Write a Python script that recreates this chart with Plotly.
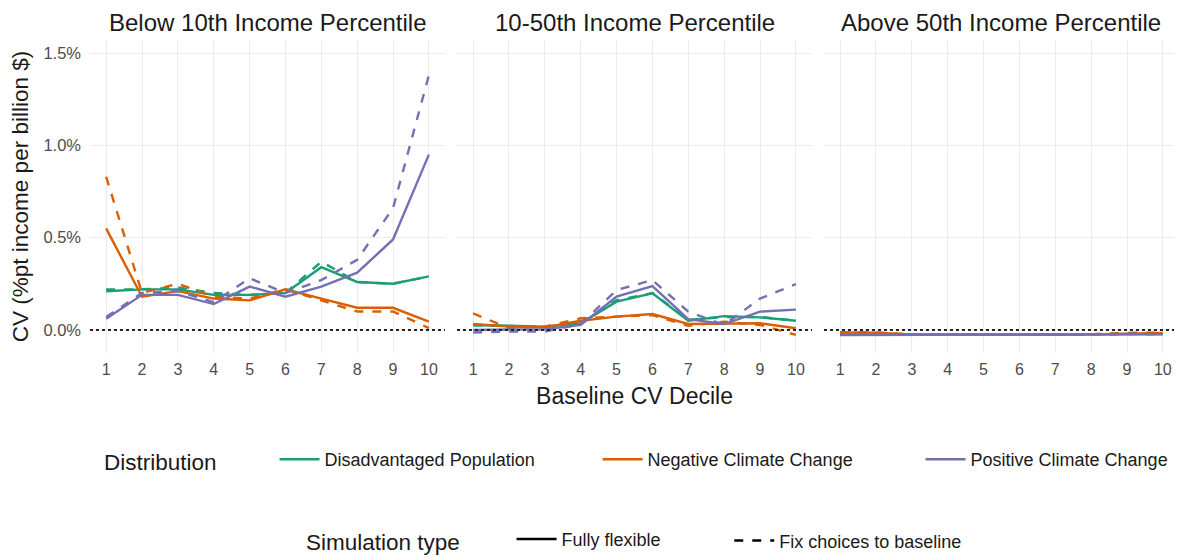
import plotly.graph_objects as go
from plotly.subplots import make_subplots

# 데이터
deciles = list(range(1, 11))
panels = ['Below 10th Income Percentile', '10-50th Income Percentile', 'Above 50th Income Percentile']
dists = ['Disadvantaged Population', 'Negative Climate Change', 'Positive Climate Change']
sim_types = ['Fully flexible', 'Fix choices to baseline']
y_ticks = [0, 0.5, 1.0, 1.5]
y_ticktext = ['0.0%', '0.5%', '1.0%', '1.5%']

# 패널 1: Below 10th
p1_dis_flex = [0.21, 0.22, 0.22, 0.19, 0.19, 0.20, 0.34, 0.26, 0.25, 0.29]
p1_dis_fix = [0.22, 0.22, 0.23, 0.20, 0.19, 0.20, 0.37, 0.26, 0.25, 0.29]
p1_neg_flex = [0.55, 0.18, 0.21, 0.17, 0.16, 0.22, 0.17, 0.12, 0.12, 0.045]
p1_neg_fix = [0.83, 0.20, 0.25, 0.18, 0.17, 0.22, 0.16, 0.10, 0.10, 0.01]
p1_pos_flex = [0.06, 0.19, 0.19, 0.14, 0.235, 0.18, 0.235, 0.31, 0.49, 0.95]
p1_pos_fix = [0.07, 0.20, 0.21, 0.15, 0.28, 0.20, 0.27, 0.38, 0.66, 1.38]

# 패널 2: 10-50th
p2_dis_flex = [0.027, 0.023, 0.018, 0.036, 0.153, 0.198, 0.05, 0.075, 0.068, 0.05]
p2_dis_fix = [0.025, 0.022, 0.017, 0.04, 0.16, 0.2, 0.055, 0.07, 0.07, 0.05]
p2_neg_flex = [0.032, 0.018, 0.014, 0.05, 0.072, 0.086, 0.032, 0.032, 0.036, 0.009]
p2_neg_fix = [0.09, 0.009, 0.018, 0.063, 0.072, 0.08, 0.022, 0.045, 0.027, -0.027]
p2_pos_flex = [0.0, 0.0, 0.004, 0.027, 0.18, 0.237, 0.058, 0.032, 0.099, 0.11]
p2_pos_fix = [-0.014, -0.009, -0.009, 0.032, 0.216, 0.27, 0.099, 0.027, 0.17, 0.248]

# 패널 3: Above 50th
p3_dis_flex = [-0.025, -0.025, -0.027, -0.027, -0.026, -0.026, -0.026, -0.025, -0.024, -0.022]
p3_dis_fix = [-0.024, -0.024, -0.026, -0.026, -0.025, -0.025, -0.025, -0.024, -0.023, -0.021]
p3_neg_flex = [-0.014, -0.015, -0.025, -0.026, -0.025, -0.026, -0.026, -0.024, -0.022, -0.016]
p3_neg_fix = [-0.012, -0.013, -0.024, -0.025, -0.024, -0.025, -0.025, -0.023, -0.016, -0.014]
p3_pos_flex = [-0.028, -0.028, -0.028, -0.027, -0.027, -0.027, -0.027, -0.024, -0.022, -0.024]
p3_pos_fix = [-0.027, -0.027, -0.027, -0.026, -0.026, -0.026, -0.026, -0.023, -0.021, -0.023]

data = [
    {'dis': (p1_dis_flex, p1_dis_fix), 'neg': (p1_neg_flex, p1_neg_fix), 'pos': (p1_pos_flex, p1_pos_fix)},
    {'dis': (p2_dis_flex, p2_dis_fix), 'neg': (p2_neg_flex, p2_neg_fix), 'pos': (p2_pos_flex, p2_pos_fix)},
    {'dis': (p3_dis_flex, p3_dis_fix), 'neg': (p3_neg_flex, p3_neg_fix), 'pos': (p3_pos_flex, p3_pos_fix)},
]

# Dark2 색상
colors = {'dis': '#1B9E77', 'neg': '#D95F02', 'pos': '#7570B3'}
keys = ['dis', 'neg', 'pos']
dashes = ['solid', 'dash']

font = 'Liberation Sans, Arial, sans-serif'

fig = make_subplots(rows=1, cols=3, shared_yaxes=True, subplot_titles=panels)

for i, pdata in enumerate(data):
    for k in keys:
        for j, d in enumerate(dashes):
            fig.add_trace(go.Scatter(x=deciles, y=pdata[k][j], mode='lines',
                                     line=dict(color=colors[k], width=2.4, dash=d),
                                     showlegend=False, hoverinfo='skip'),
                          row=1, col=i + 1)
    # 0 기준 점선
    fig.add_hline(y=0, line=dict(color='#222222', width=2, dash='dot'), row=1, col=i + 1)

# 범례용 더미 트레이스
for k, name in zip(keys, dists):
    fig.add_trace(go.Scatter(x=[None], y=[None], mode='lines', name=name,
                             line=dict(color=colors[k], width=2.6), legend='legend'))
fig.add_trace(go.Scatter(x=[None], y=[None], mode='lines', name=sim_types[0],
                         line=dict(color='black', width=2.6, dash='solid'), legend='legend2'))
fig.add_trace(go.Scatter(x=[None], y=[None], mode='lines', name=sim_types[1],
                         line=dict(color='black', width=2.6, dash='dash'), legend='legend3'))

# 축 설정
domains = [[0, 0.326], [0.337, 0.663], [0.674, 1.0]]
for i in range(3):
    fig.update_xaxes(domain=domains[i], range=[0.55, 10.45], tickvals=deciles,
                     showgrid=True, gridcolor='#EBEBEB', gridwidth=1.2, zeroline=False,
                     showline=False, ticks='', tickfont=dict(size=16, color='#4D4D4D'),
                     ticklabelstandoff=5, automargin=False, row=1, col=i + 1)
    fig.update_yaxes(range=[-0.125, 1.571], tickvals=y_ticks, ticktext=y_ticktext,
                     showgrid=True, gridcolor='#EBEBEB', gridwidth=1.2, zeroline=False,
                     showline=False, ticks='', tickfont=dict(size=16.5, color='#4D4D4D'),
                     ticklabelstandoff=8, automargin=False, row=1, col=i + 1)

fig.update_xaxes(title_text='Baseline CV Decile', title_font=dict(size=23, color='#1A1A1A'),
                 title_standoff=10, row=1, col=2)
fig.update_yaxes(title_text='CV (%pt income per billion $)', title_font=dict(size=22.5, color='#1A1A1A'),
                 title_standoff=10, row=1, col=1)

# 패널 제목 (도메인 중앙으로)
for ann, dom in zip(fig.layout.annotations, domains):
    ann.x = (dom[0] + dom[1]) / 2
    ann.font = dict(size=24, color='#1A1A1A', family=font)
    ann.yshift = 2

fig.update_layout(
    width=1174, height=550,
    margin=dict(l=82, r=3, t=32, b=205, autoexpand=False),
    plot_bgcolor='white', paper_bgcolor='white',
    font=dict(family=font, color='#1A1A1A'),
    legend=dict(title=dict(text='Distribution        ', font=dict(size=22.5)),
                orientation='h', x=0.011, xanchor='left', y=-0.345, yanchor='middle',
                font=dict(size=18), itemwidth=40, entrywidth=268, entrywidthmode='pixels'),
    legend2=dict(title=dict(text='Simulation type       ', font=dict(size=22.5)),
                 orientation='h', x=0.1965, xanchor='left', y=-0.60, yanchor='middle',
                 font=dict(size=18), itemwidth=40),
    legend3=dict(orientation='h', x=0.587, xanchor='left', y=-0.60, yanchor='middle',
                 font=dict(size=18), itemwidth=40),
)

fig.write_html('out.html')
